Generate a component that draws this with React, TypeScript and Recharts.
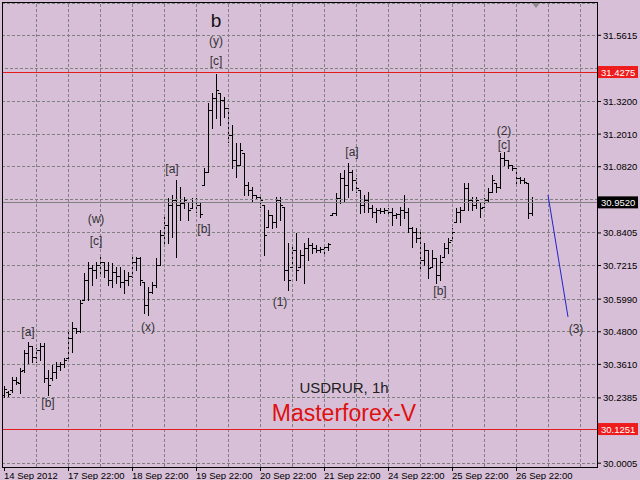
import { ComposedChart, Bar, Line, XAxis, YAxis, CartesianGrid, ReferenceLine, ReferenceDot } from 'recharts';

// USDRUR 1h bars, one per hour slot (index 0 = 14 Sep 2012)
const highs = [
  30.282, 30.264, 30.315, 30.315, 30.348, 30.413, 30.443, 30.428, 30.421, 30.439,
  30.439, 30.340, 30.359, 30.370, 30.370, 30.384, 30.479, 30.516, 30.494, 30.596,
  30.694, 30.734, 30.724, 30.734, 30.760, 30.734, 30.734, 30.731, 30.716, 30.716,
  30.705, 30.698, 30.753, 30.753, 30.753, 30.661, 30.643, 30.661, 30.749, 30.851,
  30.906, 30.968, 30.979, 31.034, 31.008, 30.972, 30.953, 30.968, 30.968, 30.953,
  31.077, 31.314, 31.351, 31.420, 31.351, 31.336, 31.296, 31.234, 31.169, 31.169,
  31.132, 31.026, 31.008, 30.979, 30.979, 30.942, 30.924, 30.906, 30.972, 30.972,
  30.935, 30.804, 30.796, 30.840, 30.778, 30.804, 30.822, 30.804, 30.796, 30.789,
  30.796, 30.804, 30.913, 30.986, 31.059, 31.070, 31.096, 31.070, 31.041, 30.997,
  30.979, 30.990, 30.942, 30.931, 30.931, 30.931, 30.931, 30.931, 30.913, 30.935,
  30.979, 30.931, 30.862, 30.858, 30.844, 30.804, 30.778, 30.778, 30.749, 30.760,
  30.804, 30.822, 30.858, 30.931, 30.935, 31.023, 31.023, 30.972, 30.972, 30.953,
  30.968, 31.004, 31.052, 31.023, 31.132, 31.136, 31.107, 31.088, 31.077, 31.045,
  31.041, 31.023, 30.972,
];
const lows = [
  30.242, 30.246, 30.260, 30.289, 30.257, 30.333, 30.366, 30.370, 30.370, 30.377,
  30.297, 30.249, 30.304, 30.311, 30.340, 30.351, 30.384, 30.406, 30.475, 30.479,
  30.596, 30.596, 30.651, 30.676, 30.694, 30.680, 30.651, 30.643, 30.658, 30.643,
  30.621, 30.651, 30.680, 30.705, 30.651, 30.548, 30.541, 30.621, 30.643, 30.724,
  30.796, 30.804, 30.826, 30.753, 30.888, 30.931, 30.888, 30.931, 30.917, 30.899,
  31.015, 31.063, 31.223, 31.260, 31.234, 31.263, 31.172, 31.077, 31.045, 31.088,
  30.979, 30.979, 30.953, 30.968, 30.935, 30.760, 30.862, 30.858, 30.862, 30.888,
  30.669, 30.632, 30.716, 30.669, 30.716, 30.658, 30.742, 30.767, 30.771, 30.771,
  30.767, 30.778, 30.906, 30.906, 30.950, 30.953, 30.972, 30.997, 30.990, 30.913,
  30.917, 30.917, 30.899, 30.880, 30.913, 30.913, 30.906, 30.869, 30.895, 30.869,
  30.895, 30.844, 30.789, 30.807, 30.705, 30.724, 30.676, 30.716, 30.658, 30.669,
  30.753, 30.767, 30.815, 30.880, 30.880, 30.924, 30.924, 30.924, 30.931, 30.899,
  30.935, 30.953, 30.990, 30.990, 31.004, 31.088, 31.077, 31.070, 31.015, 31.023,
  31.023, 30.895, 30.906,
];
const opens = [
  30.249, 30.260, 30.267, 30.304, 30.293, 30.340, 30.403, 30.428, 30.388, 30.413,
  30.428, 30.311, 30.311, 30.333, 30.355, 30.362, 30.384, 30.457, 30.494, 30.483,
  30.596, 30.669, 30.712, 30.705, 30.724, 30.734, 30.705, 30.669, 30.698, 30.683,
  30.661, 30.669, 30.683, 30.734, 30.749, 30.661, 30.578, 30.625, 30.651, 30.724,
  30.833, 30.869, 30.942, 30.961, 30.942, 30.950, 30.953, 30.931, 30.953, 30.942,
  31.015, 31.063, 31.289, 31.333, 31.351, 31.325, 31.296, 31.198, 31.107, 31.088,
  31.132, 31.015, 30.997, 30.979, 30.972, 30.942, 30.862, 30.906, 30.880, 30.961,
  30.935, 30.705, 30.716, 30.778, 30.716, 30.760, 30.786, 30.796, 30.786, 30.778,
  30.782, 30.789, 30.906, 30.913, 30.968, 31.041, 31.015, 31.063, 31.034, 30.997,
  30.942, 30.961, 30.931, 30.917, 30.924, 30.921, 30.924, 30.917, 30.906, 30.910,
  30.924, 30.917, 30.858, 30.844, 30.822, 30.742, 30.778, 30.716, 30.749, 30.687,
  30.753, 30.786, 30.815, 30.880, 30.917, 30.924, 31.004, 30.961, 30.942, 30.953,
  30.935, 30.961, 30.990, 31.023, 31.008, 31.114, 31.107, 31.088, 31.077, 31.041,
  31.034, 31.023, 30.913,
];
const closes = [
  30.271, 30.253, 30.304, 30.297, 30.337, 30.403, 30.428, 30.388, 30.413, 30.428,
  30.311, 30.286, 30.333, 30.355, 30.362, 30.377, 30.457, 30.494, 30.483, 30.585,
  30.669, 30.712, 30.705, 30.724, 30.734, 30.705, 30.669, 30.698, 30.683, 30.661,
  30.669, 30.683, 30.734, 30.749, 30.669, 30.578, 30.625, 30.651, 30.724, 30.833,
  30.869, 30.942, 30.961, 30.942, 30.950, 30.961, 30.924, 30.953, 30.942, 30.910,
  31.063, 31.289, 31.333, 31.362, 31.325, 31.296, 31.198, 31.107, 31.088, 31.143,
  31.015, 30.997, 30.979, 30.972, 30.961, 30.833, 30.906, 30.880, 30.961, 30.942,
  30.705, 30.669, 30.778, 30.705, 30.760, 30.786, 30.796, 30.786, 30.778, 30.782,
  30.789, 30.800, 30.913, 30.968, 31.041, 31.015, 31.063, 31.034, 31.004, 30.942,
  30.961, 30.931, 30.917, 30.924, 30.921, 30.924, 30.917, 30.906, 30.910, 30.924,
  30.917, 30.858, 30.844, 30.822, 30.742, 30.778, 30.712, 30.749, 30.687, 30.734,
  30.786, 30.807, 30.844, 30.917, 30.924, 31.004, 30.961, 30.942, 30.961, 30.931,
  30.961, 30.990, 31.034, 31.008, 31.114, 31.107, 31.088, 31.077, 31.041, 31.034,
  31.026, 30.913, 30.952,
];

const SLOTS = 149; // includes empty space on the right (chart shift)

const dateIdx = [0, 16, 32, 48, 64, 80, 96, 112, 128];
const dateText = ['14 Sep 2012', '17 Sep 22:00', '18 Sep 22:00', '19 Sep 22:00', '20 Sep 22:00',
  '21 Sep 22:00', '24 Sep 22:00', '25 Sep 22:00', '26 Sep 22:00'];
const vGridIdx = [8, 16, 24, 32, 40, 48, 56, 64, 72, 80, 88, 96, 104, 112, 120, 128, 136, 144];

// labelled price ticks, plus grid levels whose labels sit under the price boxes
const priceTicks = [31.5615, 31.32, 31.201, 31.082, 30.8405, 30.7215,
  30.599, 30.48, 30.361, 30.2385, 30.0005];
const hiddenGrid = [31.44, 30.961];

const levelHigh = 31.4275;
const levelLow = 30.1251;
const lastPrice = 30.952;

// projected wave (3)
const waveIdx = [136, 141];
const waveVals = [30.979, 30.534];

// wave labels
const noteText = ['b', '(y)', '[c]', '[a]', '[b]', '(w)', '[c]', '(x)', '[a]', '[b]', '(1)', '[a]', '[b]', '(2)', '[c]', '(3)'];
const noteIdx = [53, 53, 53, 42, 50, 23, 23, 36, 6, 11, 69, 87, 109, 125, 125, 143];
const notePrice = [31.617, 31.541, 31.468, 31.074, 30.855, 30.891, 30.811, 30.497, 30.479, 30.22, 30.589, 31.136, 30.629, 31.214, 31.163, 30.49];

const FONT = '"Liberation Sans", Arial, sans-serif';

const data = Array.from({ length: SLOTS }, (_, i) => {
  const has = i < highs.length;
  const w = waveIdx.indexOf(i);
  return {
    i,
    range: has ? [lows[i], highs[i]] : undefined,
    high: has ? highs[i] : undefined,
    low: has ? lows[i] : undefined,
    open: has ? opens[i] : undefined,
    close: has ? closes[i] : undefined,
    wave: w >= 0 ? waveVals[w] : undefined,
  };
});

function OhlcBar(props: any) {
  const { x, y, width, height, payload } = props;
  if (!payload || payload.high == null) return null;
  const cx = Math.round(x + width / 2);
  const top = Math.min(y, y + height);
  const span = Math.abs(height);
  const r = payload.high - payload.low;
  const toY = (v: number) => (r === 0 ? top : top + ((payload.high - v) / r) * span);
  const yTop = Math.round(top);
  const yBot = Math.round(top + span);
  const yo = Math.round(toY(payload.open));
  const yc = Math.round(toY(payload.close));
  return (
    <g shapeRendering="crispEdges" fill="#000">
      <rect x={cx} y={yTop} width={1} height={Math.max(1, yBot - yTop + 1)} />
      <rect x={cx - 2} y={yo} width={2} height={1} />
      <rect x={cx + 1} y={yc} width={2} height={1} />
    </g>
  );
}

function DateTick(props: any) {
  const { x, y, payload } = props;
  const k = dateIdx.indexOf(payload.value);
  if (k < 0) return <g />;
  return (
    <g>
      <line x1={x} x2={x} y1={y - 6} y2={y - 2} stroke="#000" shapeRendering="crispEdges" />
      <text x={x} y={y + 6} fontSize={9.5} fontFamily={FONT} fill="#000" textAnchor="start">
        {dateText[k]}
      </text>
    </g>
  );
}

function PriceTick(props: any) {
  const { x, y, payload } = props;
  return (
    <text x={x} y={y + 3.5} fontSize={9.5} fontFamily={FONT} fill="#000" textAnchor="start">
      {Number(payload.value).toFixed(4)}
    </text>
  );
}

const priceBox = (value: number, bg: string) => (props: any) => {
  const { viewBox } = props;
  const right = viewBox.x + viewBox.width;
  return (
    <g>
      <rect x={right} y={viewBox.y - 6} width={40} height={12} fill={bg} />
      <text x={right + 3} y={viewBox.y + 3.5} fontSize={9.5} fontFamily={FONT} fill="#fff">
        {value.toFixed(4)}
      </text>
    </g>
  );
};

export default function App() {
  return (
    <div style={{ position: 'absolute', left: 0, top: 0, width: 640, height: 480, background: '#D8BFD8', overflow: 'hidden' }}>
      <ComposedChart width={640} height={480} data={data} margin={{ top: 3, right: 0, bottom: 0, left: 2 }}>
        <CartesianGrid vertical={false} stroke="#808080" strokeDasharray="3 2" shapeRendering="crispEdges" />
        {hiddenGrid.map((v) => (
          <ReferenceLine key={v} y={v} stroke="#808080" strokeDasharray="3 2" shapeRendering="crispEdges" />
        ))}
        {vGridIdx.map((v) => (
          <ReferenceLine key={v} x={v} stroke="#808080" strokeDasharray="3 2" shapeRendering="crispEdges" />
        ))}
        <XAxis dataKey="i" type="category" interval={0} height={13} axisLine={false} tickLine={false} tick={<DateTick />} tickSize={4} tickMargin={2} />
        <YAxis
          orientation="right"
          width={42}
          type="number"
          domain={[29.9866, 31.6793]}
          allowDataOverflow
          ticks={priceTicks}
          interval={0}
          axisLine={false}
          tickSize={3}
          tickMargin={2}
          tickLine={{ stroke: '#000' }}
          tick={<PriceTick />}
        />
        <ReferenceLine y={lastPrice} stroke="#808080" shapeRendering="crispEdges" label={priceBox(lastPrice, '#000')} />
        <ReferenceLine y={levelHigh} stroke="#e41b1b" shapeRendering="crispEdges" label={priceBox(levelHigh, '#ee1c1c')} />
        <ReferenceLine y={levelLow} stroke="#e41b1b" shapeRendering="crispEdges" label={priceBox(levelLow, '#ee1c1c')} />
        <Bar dataKey="range" shape={<OhlcBar />} isAnimationActive={false} />
        <Line dataKey="wave" type="linear" stroke="#2222cc" strokeWidth={1} dot={false} connectNulls isAnimationActive={false} />
        {noteText.map((t, k) => (
          <ReferenceDot
            key={k}
            x={noteIdx[k]}
            y={notePrice[k]}
            r={0}
            shape={(p: any) => (
              <text x={p.cx} y={p.cy} textAnchor="middle" dominantBaseline="central" fontFamily={FONT}
                fontSize={t === 'b' ? 19 : 12} fill={t === 'b' ? '#111' : '#333'}>
                {t}
              </text>
            )}
          />
        ))}
        <ReferenceDot
          x={133}
          y={31.6793}
          r={0}
          shape={(p: any) => (
            <polygon points={`${p.cx - 4},${p.cy} ${p.cx + 4},${p.cy} ${p.cx},${p.cy + 5}`} fill="#8c8c8c" />
          )}
        />
      </ComposedChart>
      <div style={{ position: 'absolute', left: 2, top: 2, width: 594, height: 464, border: '1px solid #000', pointerEvents: 'none' }} />
      <div style={{ position: 'absolute', left: 244, top: 380, width: 200, textAlign: 'center', fontFamily: FONT, fontSize: 15, lineHeight: '15px', color: '#202020' }}>
        USDRUR, 1h
      </div>
      <div style={{ position: 'absolute', left: 194, top: 402, width: 300, textAlign: 'center', fontFamily: FONT, fontSize: 23, lineHeight: '23px', color: '#e01010' }}>
        Masterforex-V
      </div>
    </div>
  );
}
